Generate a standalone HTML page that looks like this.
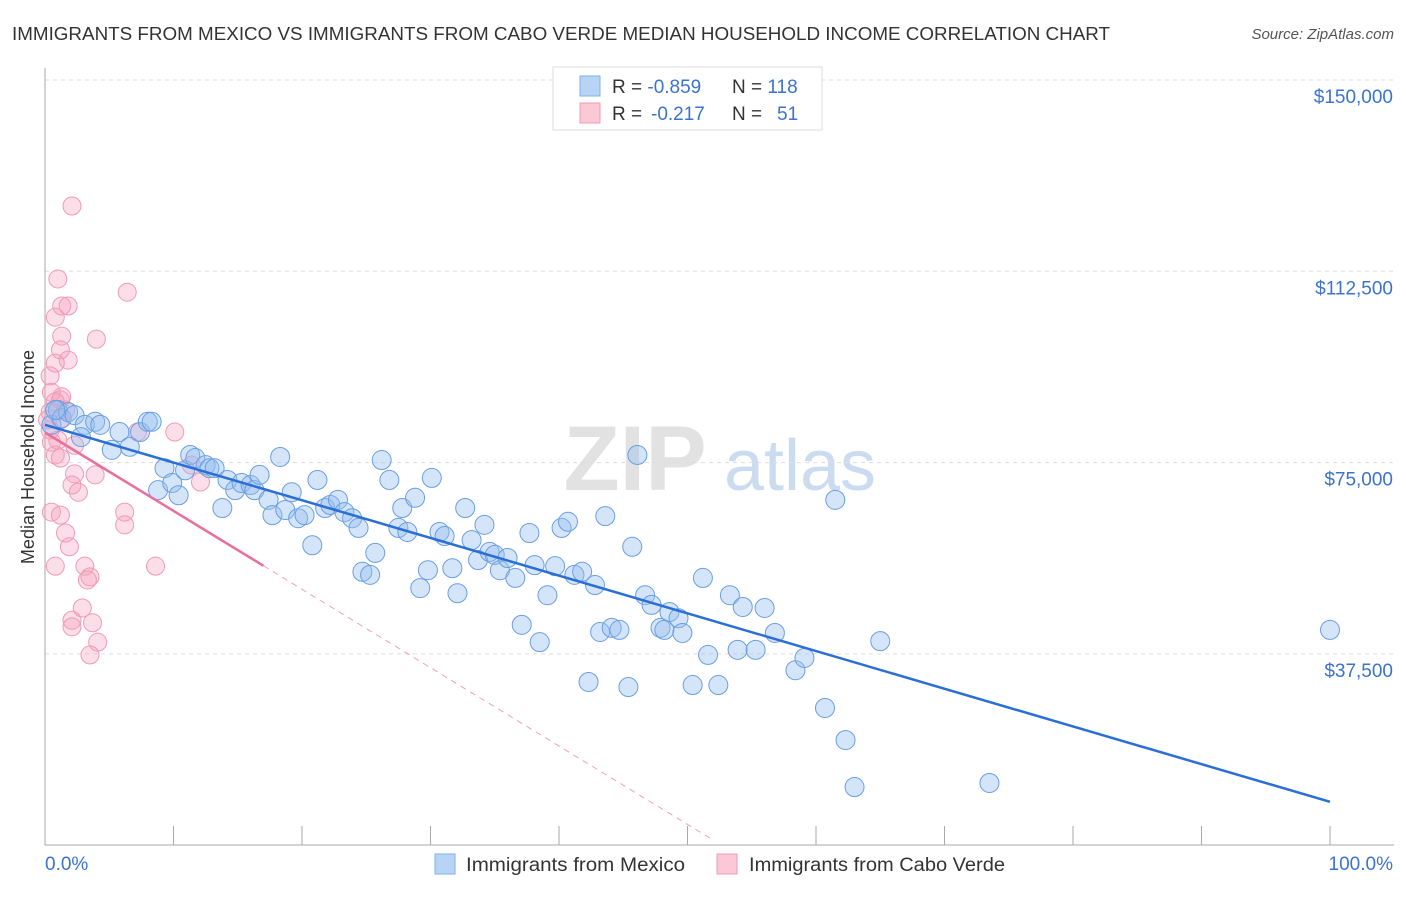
<!DOCTYPE html>
<html><head><meta charset="utf-8"><style>
body{margin:0;background:#fff;font-family:"Liberation Sans",sans-serif}
svg text{font-family:"Liberation Sans",sans-serif}
</style></head><body>
<svg id="chart" width="1406" height="892" viewBox="0 0 1406 892" xmlns="http://www.w3.org/2000/svg">
<text x="12" y="40" font-size="18" fill="#333" textLength="1098" lengthAdjust="spacingAndGlyphs">IMMIGRANTS FROM MEXICO VS IMMIGRANTS FROM CABO VERDE MEDIAN HOUSEHOLD INCOME CORRELATION CHART</text>
<text x="1394" y="39" font-size="15" fill="#555" font-style="italic" text-anchor="end">Source: ZipAtlas.com</text>
<g>
<text x="635" y="490" font-size="92" fill="#e2e2e2" font-family="Liberation Serif" font-weight="bold" text-anchor="middle">ZIP</text>
<text x="800" y="490" font-size="72" fill="#ccdcf0" text-anchor="middle">atlas</text>
</g>
<g id="grid"></g>
<g id="axes"></g>
<g id="marks"></g>
<text transform="translate(34,457) rotate(-90)" font-size="18" fill="#333" text-anchor="middle">Median Household Income</text>
<g>
<rect x="553" y="67" width="269" height="63" fill="#fff" stroke="#ddd"/>
<rect x="580" y="76" width="20" height="20" fill="#b8d4f5" stroke="#7fb0ea"/>
<rect x="580" y="103" width="20" height="20" fill="#fbc8d6" stroke="#f29ab4"/>
<text x="612" y="93" font-size="19" fill="#333">R = <tspan fill="#3a73d0">-0.859</tspan><tspan x="732">N = </tspan><tspan fill="#3a73d0">118</tspan></text>
<text x="612" y="120" font-size="19" fill="#333">R = <tspan fill="#3a73d0" x="651">-0.217</tspan><tspan x="732">N = </tspan><tspan fill="#3a73d0" x="777">51</tspan></text>
</g>
<g>
<rect x="435" y="854" width="20" height="20" fill="#b8d4f5" stroke="#7fb0ea"/>
<text x="466" y="871" font-size="19" fill="#333" textLength="219" lengthAdjust="spacingAndGlyphs">Immigrants from Mexico</text>
<rect x="717" y="854" width="20" height="20" fill="#fbc8d6" stroke="#f29ab4"/>
<text x="749" y="871" font-size="19" fill="#333" textLength="256" lengthAdjust="spacingAndGlyphs">Immigrants from Cabo Verde</text>
</g>
</svg>
<script>
const yTicks=[37500,75000,112500,150000];
const yTickLabels=["$37,500","$75,000","$112,500","$150,000"];
const xTickCount=10;
const mexicoX=[0.5,1.0,1.3,1.8,2.3,3.1,3.9,4.3,5.2,5.8,6.6,7.4,8.0,8.3,8.8,9.3,9.9,10.4,10.9,11.3,11.7,12.5,12.8,13.2,13.8,14.2,14.8,15.3,16.0,16.3,16.7,17.4,17.7,18.3,18.7,19.2,19.7,20.2,20.8,21.2,21.8,22.2,22.8,23.3,23.9,24.4,24.7,25.3,25.7,26.2,26.8,27.5,27.8,28.2,28.8,29.2,29.8,30.1,30.7,31.1,31.7,32.1,32.7,33.2,33.7,34.2,34.6,35.0,35.4,36.0,36.6,37.1,37.7,38.1,38.5,39.1,39.7,40.2,40.7,41.2,41.8,42.3,42.8,43.2,43.6,44.1,44.7,45.4,45.7,46.7,47.2,47.9,48.2,48.6,49.3,49.6,50.4,51.2,51.6,52.4,53.3,53.9,54.3,55.3,56.0,56.8,58.4,59.1,60.7,61.5,62.3,63.0,65.0,73.5,46.1,100,0.8,2.8];
const mexicoY=[82.4,85.3,83.7,84.9,84.3,82.4,83.0,82.4,77.5,81.0,78.1,81.0,83.0,83.0,69.6,73.9,71.0,68.6,73.5,76.5,75.9,74.5,73.9,73.9,66.1,71.6,69.6,71.0,70.6,69.6,72.6,67.7,64.7,76.1,65.7,69.2,64.1,64.7,58.8,71.6,66.1,66.7,67.7,65.3,64.1,62.2,53.6,53.0,57.3,75.5,71.6,62.2,66.1,61.4,68.1,50.4,53.9,72.0,61.4,60.6,54.3,49.4,66.1,59.8,55.9,62.8,57.5,56.9,53.9,56.3,52.4,43.2,61.2,54.9,39.8,49.0,54.7,62.2,63.4,53.0,53.6,32.0,51.0,41.8,64.5,42.6,42.2,31.0,58.5,49.0,47.1,42.6,42.2,45.7,44.5,41.6,31.4,52.4,37.3,31.4,49.0,38.3,46.7,38.3,46.5,41.6,34.3,36.7,26.9,67.7,20.6,11.4,40.0,12.2,76.5,42.2,85.3,80.0];
const caboX=[2.1,1.0,6.4,1.3,1.8,0.8,1.3,4.0,1.2,1.8,0.8,0.4,0.5,1.2,1.3,0.8,1.6,0.4,10.1,7.2,1.0,0.5,2.3,0.8,1.2,2.3,3.9,2.1,2.6,0.5,1.2,6.2,6.2,1.6,1.9,0.8,3.1,8.6,3.5,3.3,2.9,2.1,2.1,3.7,4.1,3.5,12.1,11.4,0.4,0.2,1.2];
const caboY=[125.3,111.0,108.4,105.7,105.7,103.5,99.8,99.2,97.1,95.1,94.5,92.0,88.8,87.3,87.9,86.9,85.3,84.9,81.0,81.0,79.4,79.0,78.4,76.5,75.9,72.8,72.6,70.6,69.2,65.3,64.7,65.3,62.8,61.2,58.5,54.7,54.7,54.7,52.6,52.0,46.5,44.1,42.8,43.6,39.8,37.3,71.2,74.5,81.4,83.4,83.4];
const mexicoTrend=[82.4,8.5];
const caboTrend=[80.9,1.0,52,17];

const NS="http://www.w3.org/2000/svg";
const X=p=>45+p*12.85;
const Y=k=>80+(150-k)*191.3/37.5;
function mk(tag,attrs,parent){const e=document.createElementNS(NS,tag);for(const k in attrs)e.setAttribute(k,attrs[k]);parent.appendChild(e);return e;}
const grid=document.getElementById('grid'),axes=document.getElementById('axes'),marks=document.getElementById('marks');
yTicks.forEach((t,i)=>{
 const y=Y(t/1000);
 const g=mk('line',{x1:45,x2:1394,y1:y,y2:y,stroke:'#ddd','stroke-dasharray':'4,4'},grid);
 
 
 const l=mk('text',{x:1393,y:y+23,'font-size':19,fill:'#3a73d0','text-anchor':'end'},axes);
 
 
 l.textContent=yTickLabels[i];
});
const ya=mk('line',{x1:45,x2:45,y1:68,y2:845,stroke:'#aaa'},axes);


const xa=mk('line',{x1:45,x2:1394,y1:845,y2:845,stroke:'#aaa'},axes);


for(let i=1;i<=xTickCount;i++){
 const x=X(i*100/xTickCount);
 const t=mk('line',{x1:x,x2:x,y1:826,y2:845,stroke:'#aaa'},axes);
 
 
}
const x0=mk('text',{x:45,y:870,'font-size':19,fill:'#3a73d0'},axes);


x0.textContent='0.0%';
const x1=mk('text',{x:1393,y:870,'font-size':19,fill:'#3a73d0','text-anchor':'end'},axes);


x1.textContent='100.0%';
caboX.forEach((v,i)=>{
 const c=mk('circle',{cx:X(v),cy:Y(caboY[i]),r:9,fill:'rgba(246,160,188,0.35)',stroke:'#f09ab4','stroke-width':1},marks);
 
 
});
mexicoX.forEach((v,i)=>{
 const c=mk('circle',{cx:X(v),cy:Y(mexicoY[i]),r:9.5,fill:'rgba(150,190,240,0.4)',stroke:'#6a9fe3','stroke-width':1},marks);
 
 
});
const ps=(caboTrend[1]-caboTrend[0])/caboTrend[2];
const pd=mk('line',{x1:X(caboTrend[3]),y1:Y(caboTrend[0]+ps*caboTrend[3]),x2:X(caboTrend[2]),y2:Y(caboTrend[1]),stroke:'#f0a0b8','stroke-dasharray':'6,5','stroke-width':1},marks);


const pl=mk('line',{x1:X(0),y1:Y(caboTrend[0]),x2:X(caboTrend[3]),y2:Y(caboTrend[0]+ps*caboTrend[3]),stroke:'#e8709a','stroke-width':2.5},marks);


const bl=mk('line',{x1:X(0),y1:Y(mexicoTrend[0]),x2:X(100),y2:Y(mexicoTrend[1]),stroke:'#2a6fd6','stroke-width':2.5},marks);


</script>
</body></html>
